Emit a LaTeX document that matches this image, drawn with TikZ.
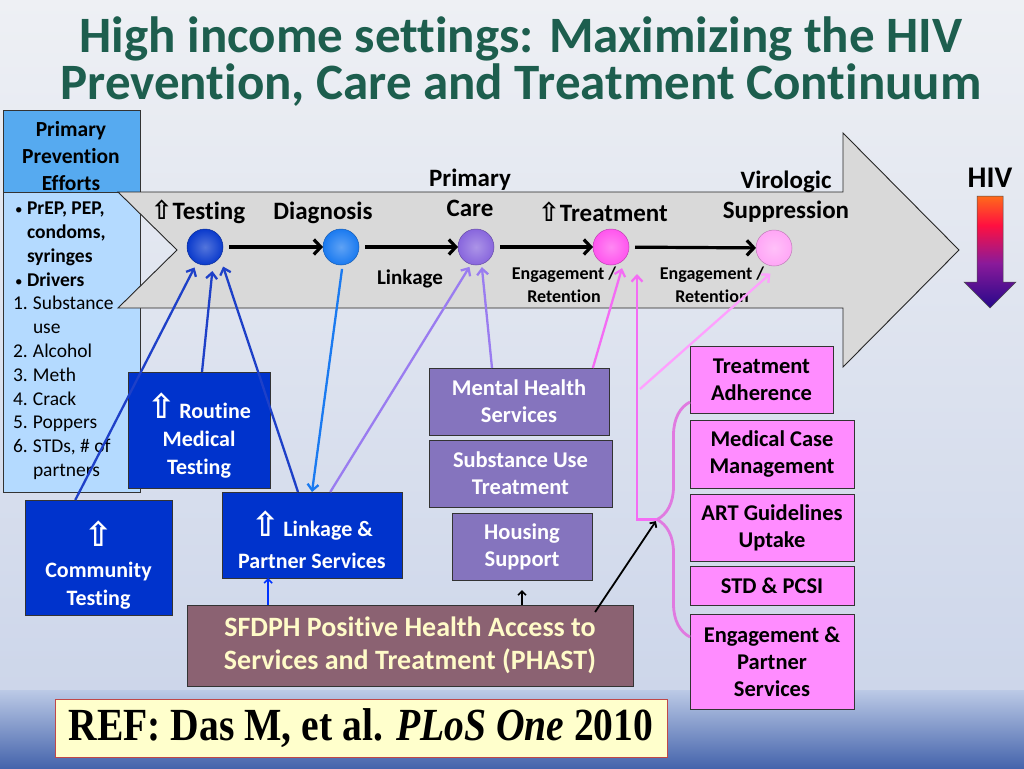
\documentclass[tikz,border=0pt]{standalone}
\usepackage{fontspec}
\usepackage{graphicx}
\setmainfont[Ligatures={TeX,NoCommon}]{Carlito}
\newfontfamily\djv{DejaVu Sans}
\newfontfamily\tnr{Liberation Serif}
\usetikzlibrary{arrows.meta,decorations.pathreplacing,calc}
\definecolor{bgtop}{HTML}{EEF0F4}
\definecolor{bgmid}{HTML}{CDD6EA}
\definecolor{band1}{HTML}{BCCAE6}
\definecolor{band2}{HTML}{4564AC}
\definecolor{titlec}{HTML}{1D5E4E}
\definecolor{hdrblue}{HTML}{56AAF0}
\definecolor{bodyblue}{HTML}{B4DAFF}
\definecolor{arrowgray}{HTML}{D9D9D9}
\definecolor{dkblue}{HTML}{0033CC}
\definecolor{cA}{HTML}{0A3ACC}
\definecolor{cB}{HTML}{1A7AF0}
\definecolor{cC}{HTML}{8866DD}
\definecolor{cD}{HTML}{FF55EE}
\definecolor{cE}{HTML}{FFA6F6}
\definecolor{purpbox}{HTML}{8574BE}
\definecolor{purpline}{HTML}{9A7CF0}
\definecolor{magline}{HTML}{F46CF4}
\definecolor{pinkline}{HTML}{FFA0FF}
\definecolor{blueline}{HTML}{1E40C8}
\definecolor{mauve}{HTML}{8B6272}
\definecolor{creamtxt}{HTML}{FFFBC8}
\definecolor{cream}{HTML}{FFFFCC}
\definecolor{refred}{HTML}{C04848}
\definecolor{pinkbox}{HTML}{FF8CFF}
\definecolor{bracec}{HTML}{E07AE0}
\definecolor{hivorange}{HTML}{FF6A1A}
\definecolor{hivred}{HTML}{FF1040}
\definecolor{hivpurp}{HTML}{8A1A9A}
\definecolor{hivblue}{HTML}{26088A}
\pgfdeclareverticalshading{hivsh}{100bp}{color(0bp)=(hivblue); color(25bp)=(hivblue); color(45bp)=(hivpurp); color(62bp)=(hivred); color(75bp)=(hivorange); color(100bp)=(hivorange)}
\newcommand{\upsym}[1]{{\djv\fontsize{#1}{#1}\selectfont ⇧}}
\newcommand{\smbul}{{\fontsize{15}{15}\selectfont •}}
\begin{document}
\begin{tikzpicture}[x=1pt,y=-1pt,
  every node/.style={inner sep=0pt, outer sep=0pt},
  boxbase/.style={draw=black!80, line width=0.8pt, anchor=north west, align=center},
  bluebox/.style={boxbase, fill=dkblue, text=white, font=\bfseries\fontsize{22}{28}\selectfont},
  purpbx/.style={boxbase, fill=purpbox, text=white, font=\bfseries\fontsize{22.5}{27}\selectfont},
  pinkbx/.style={boxbase, fill=pinkbox, text=black, font=\bfseries\fontsize{22.5}{27}\selectfont},
  lbl/.style={font=\bfseries\fontsize{25}{30}\selectfont, align=center},
  sublbl/.style={font=\bfseries\fontsize{18}{23}\selectfont, align=center},
  ballnode/.style={circle, minimum size=36pt, shading=radial, inner color=#1!70!white, outer color=#1, draw=#1!75!black, line width=0.5pt},
  flow/.style={-{Straight Barb[length=7pt,width=15pt]}, line width=3.2pt, black, shorten <=6pt},
  barb/.style={-{Straight Barb[length=6pt,width=11pt]}, line width=2.3pt},
  smallbarb/.style={-{Straight Barb[length=4pt,width=8pt]}, line width=1.6pt}
]
\useasboundingbox (0,0) rectangle (1024,768);
% background
\fill[top color=bgtop, bottom color=bgmid] (0,0) rectangle (1024,690);
\fill[top color=band1, bottom color=band2] (0,690) rectangle (1024,768);

% title
\node[font=\bfseries\fontsize{51}{47}\selectfont, text=titlec, align=center] (title) at (521,62)
  {High income settings: Maximizing the HIV\\Prevention, Care and Treatment Continuum};

% left box
\node[boxbase, fill=hdrblue, minimum width=137pt, minimum height=82pt] (hdr) at (3,110) {};
\node[font=\bfseries\fontsize{21.5}{27}\selectfont, align=center] (hdrtxt) at (71,156) {Primary\\Prevention\\Efforts};
\node[boxbase, fill=bodyblue, minimum width=137pt, minimum height=300pt] (body) at (3,192) {};
\node[anchor=north west, align=left, font=\fontsize{19.5}{23.8}\selectfont] (bodytxt) at (13,202) {%
\makebox[14pt][l]{\hspace*{2pt}\smbul}\textbf{PrEP, PEP,}\\
\hspace*{14pt}\textbf{condoms,}\\
\hspace*{14pt}\textbf{syringes}\\
\makebox[14pt][l]{\hspace*{2pt}\smbul}\textbf{Drivers}\\
\makebox[20pt][l]{1.}Substance\\
\hspace*{20pt}use\\
\makebox[20pt][l]{2.}Alcohol\\
\makebox[20pt][l]{3.}Meth\\
\makebox[20pt][l]{4.}Crack\\
\makebox[20pt][l]{5.}Poppers\\
\makebox[20pt][l]{6.}STDs, \# of\\
\hspace*{20pt}partners};

% big arrow
\draw[fill=arrowgray, draw=black!85, line width=0.9pt] (118,192) -- (843,192) -- (843,133) -- (959,250) -- (843,367) -- (843,308) -- (118,308) -- (177,250) -- cycle;

% continuum labels
\node[lbl] (ltest) at (198,212) {\upsym{26}Testing};
\node[lbl] (ldiag) at (323,213) {Diagnosis};
\node[lbl] (lcare) at (470,193) {Primary\\Care};
\node[lbl] (ltreat) at (603,212) {\upsym{26}Treatment};
\node[lbl] (lviro) at (786,197) {Virologic\\Suppression};

% circles
\node[ballnode=cA] (t) at (205,247) {};
\node[ballnode=cB] (d) at (341,247) {};
\node[ballnode=cC] (c) at (476,247) {};
\node[ballnode=cD] (tr) at (611,247) {};
\node[ballnode=cE] (vs) at (774,248) {};
\draw[flow] (t) -- (d);
\draw[flow] (d) -- (c);
\draw[flow] (c) -- (tr);
\draw[flow] (tr) -- (vs);

\node[sublbl, font=\bfseries\fontsize{21}{23}\selectfont] (llink) at (410,279) {Linkage};
\node[sublbl] (leng1) at (564,285) {Engagement /\\Retention};
\node[sublbl] (leng2) at (712,285) {Engagement /\\Retention};

% HIV
\node[font=\bfseries\fontsize{30}{30}\selectfont] (hiv) at (990,178) {HIV};
\shade[shading=hivsh, draw=black!70, line width=0.5pt] (977,196) -- (1003,196) -- (1003,282) -- (1016,282) -- (990,308) -- (964,282) -- (977,282) -- cycle;

% blue boxes
\node[bluebox, minimum width=142pt, minimum height=116pt] (rt) at (128,372) {\rule{0pt}{36pt}\upsym{34}\,Routine\\Medical\\Testing};
\node[bluebox, minimum width=147pt, minimum height=115pt] (ct) at (25,500) {\rule{0pt}{40pt}\upsym{34}\\[3pt]Community\\Testing};
\node[bluebox, minimum width=180pt, minimum height=86pt] (lk) at (222,492) {\rule{0pt}{36pt}\upsym{34}\,Linkage \&\\[4pt]Partner Services};

% purple boxes
\node[purpbx, minimum width=180pt, minimum height=67pt] (mh) at (429,368) {Mental Health\\Services};
\node[purpbx, minimum width=183pt, minimum height=67pt] (su) at (429,440) {Substance Use\\Treatment};
\node[purpbx, minimum width=140pt, minimum height=67pt] (hs) at (452,513) {Housing\\Support};

% PHAST
\node[boxbase, fill=mauve, text=creamtxt, font=\bfseries\fontsize{28}{33}\selectfont, minimum width=446pt, minimum height=81pt] (ph) at (187,605) {SFDPH Positive Health Access to\\Services and Treatment (PHAST)};

% pink boxes
\node[pinkbx, minimum width=143pt, minimum height=67pt] (ta) at (690,346) {Treatment\\Adherence};
\node[pinkbx, minimum width=164pt, minimum height=68pt] (mcm) at (690,420) {Medical Case\\Management};
\node[pinkbx, minimum width=164pt, minimum height=67pt] (art) at (690,494) {ART Guidelines\\Uptake};
\node[pinkbx, minimum width=164pt, minimum height=39pt] (std) at (690,566) {STD \& PCSI};
\node[pinkbx, minimum width=164pt, minimum height=95pt] (eps) at (690,614) {Engagement \&\\Partner\\Services};

% REF
\node[boxbase, draw=refred, line width=1pt, fill=cream, minimum width=612pt, minimum height=58pt] (ref) at (55,699)
  {\scalebox{0.86}[1]{\tnr\bfseries\fontsize{46}{46}\selectfont REF: Das M, et al. \textit{PLoS One} 2010}};

% brace
\coordinate (brtop) at (690,402);
\coordinate (brbot) at (690,637);
\coordinate (bt) at (657,519.5);
\coordinate (bend) at (637,519.5);
\coordinate (vtop) at (637,274);
\coordinate (lpstart) at (640,389);
\draw[bracec, line width=2.8pt, decorate, decoration={brace, amplitude=33pt}] (brbot) -- (brtop);

% connectors to Testing
\draw[barb, blueline, shorten >=5pt] (ct.112) -- (t);
\draw[barb, blueline, shorten >=8pt] (rt.north -| 202,0) -- (t.-63);
\draw[barb, blueline, shorten >=10pt] (lk.108) -- (t.-34);
\draw[barb, cB, shorten <=4pt] (d.-85) -- (lk.north);
% purple
\draw[barb, purpline, shorten >=3pt] (lk.67) -- (c.-106);
\draw[barb, purpline, shorten >=3pt] ($(mh.north west)!0.35!(mh.north east)$) -- (c.-72);
% magenta / pink
\draw[barb, magline, shorten >=10pt] ($(mh.north west)!0.91!(mh.north east)$) -- (tr.-40);
\draw[barb, magline] (bt) -- (bend) -- (vtop);
\draw[barb, pinkline, shorten >=13pt] (lpstart) -- (vs.-70);
% PHAST arrows
\coordinate (phA) at ($(ph.north west)!0.182!(ph.north east)$);
\coordinate (phB) at ($(ph.north west)!0.915!(ph.north east)+(0,7)$);
\draw[smallbarb, blue!80!cyan] (phA) -- (phA |- lk.south);
\draw[smallbarb, black, shorten >=10pt] (hs.south |- ph.north) -- (hs.south);
\draw[smallbarb, black, line width=1.8pt, shorten >=2pt] (phB) -- (bt);
\end{tikzpicture}
\end{document}
